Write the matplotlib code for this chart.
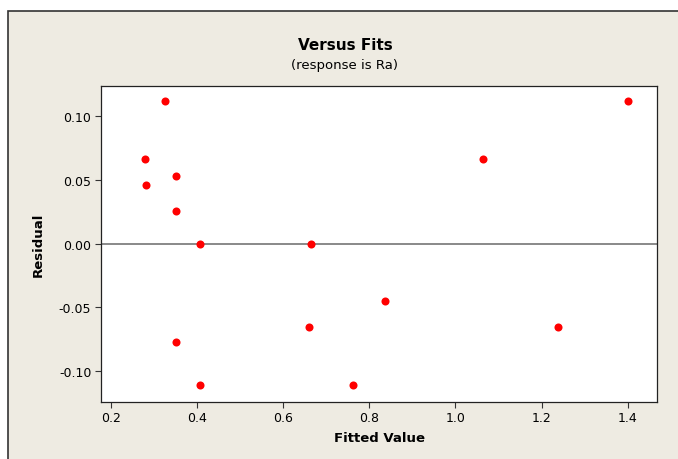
import numpy as np
import matplotlib.pyplot as plt
from matplotlib.patches import Rectangle

# Données (valeur ajustée, résidu)
fitted = np.array([0.326, 0.279, 0.351, 0.282, 0.351, 0.406, 0.665, 0.659,
                   0.351, 0.406, 0.763, 0.837, 1.063, 1.239, 1.401])
residual = np.array([0.112, 0.0666, 0.0535, 0.0461, 0.0255, 0.0, 0.0, -0.0655,
                     -0.0775, -0.1108, -0.1108, -0.045, 0.0666, -0.0655, 0.112])

xticks = [0.2, 0.4, 0.6, 0.8, 1.0, 1.2, 1.4]
yticks = [-0.10, -0.05, 0.00, 0.05, 0.10]

plt.rcParams['font.family'] = ['DejaVu Sans']

fig = plt.figure(figsize=(6.78, 4.60), dpi=100, facecolor='white')

# cadre beige style Minitab
fig.patches.append(Rectangle((8 / 678, -0.05), 1.2, 1 - 12 / 460 + 0.05,
                             transform=fig.transFigure, facecolor='#EEEBE2',
                             edgecolor='#333333', linewidth=1.2, zorder=-5))

ax = fig.add_axes([0.149, 0.1246, 0.82, 0.687])
ax.set_facecolor('white')

ax.axhline(0, color='#808080', linewidth=1.3, zorder=1)
ax.plot(fitted, residual, 'o', color='#FF0000', markersize=5.8,
        markeredgewidth=0, zorder=3)

ax.set_xlim(0.177, 1.468)
ax.set_ylim(-0.1242, 0.1242)
ax.set_xticks(xticks)
ax.set_xticklabels(['%.1f' % v for v in xticks])
ax.set_yticks(yticks)
ax.set_yticklabels(['%.2f' % v for v in yticks])
ax.tick_params(labelsize=9, length=4, width=0.8, color='#333333', pad=3)
for s in ax.spines.values():
    s.set_linewidth(0.9)
    s.set_color('#222222')

ax.set_xlabel("Fitted Value", fontsize=9.5, fontweight='bold', labelpad=5)
ax.set_ylabel("Residual", fontsize=9.5, fontweight='bold', labelpad=10)

fig.text(0.5087, 1 - 46 / 460, "Versus Fits", ha='center', va='center',
         fontsize=11, fontweight='bold')
fig.text(0.5087, 1 - 66 / 460, "(response is Ra)", ha='center', va='center',
         fontsize=9.5)

fig.savefig("out.png", dpi=100, facecolor=fig.get_facecolor())
